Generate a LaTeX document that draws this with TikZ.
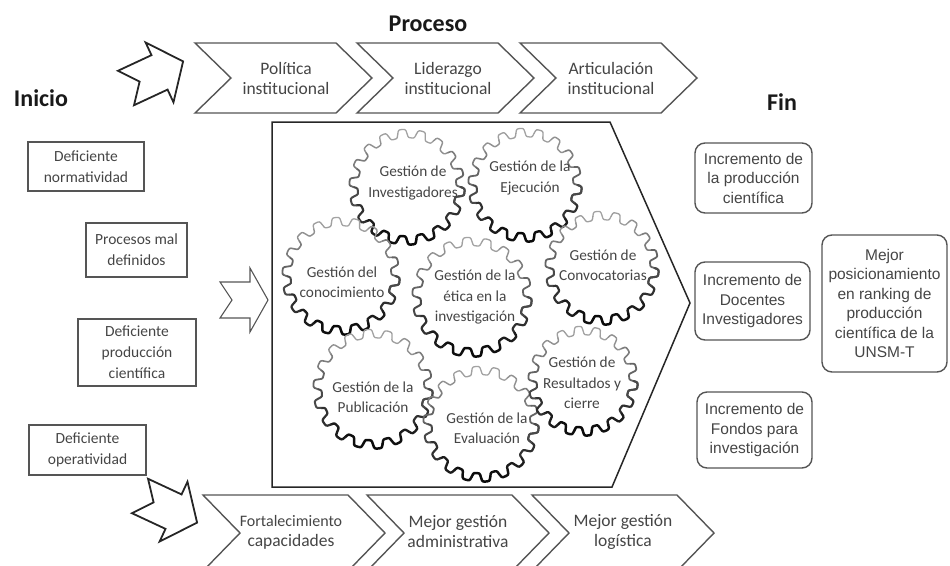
\documentclass[tikz,border=0pt]{standalone}
\usepackage{fontspec}
\usepackage{tikz}
\setmainfont{Carlito}
\newfontfamily\arialfont{Liberation Sans}

\definecolor{txtgray}{HTML}{454545}
\definecolor{linegray}{HTML}{555555}

\newcommand{\drawgear}[3]{%
  \foreach \k in {0,...,18}{%
    \pgfmathsetmacro{\gstart}{\k*20}
    \pgfmathsetmacro{\gend}{\k*20+20}
    \pgfmathsetmacro{\gdark}{66+30*sin(\k*20+10)}
    \pgfmathsetmacro{\gwid}{1.9+0.6*sin(\k*20+10)}
    \draw[black!\gdark, line width=\gwid pt, line cap=round, shift={(#1,#2)}]
      plot[domain=\gstart:\gend, samples=21, variable=\t]
      ({\t}:{#3+4.2*tanh(2.5*sin(18*\t))/tanh(2.5)});
  }%
}

\begin{document}
\begin{tikzpicture}[x=1pt,y=-1pt]
            \tikzstyle{chev}=[draw=linegray,line width=1.4pt,line join=miter]
            \tikzstyle{ctext}=[align=center,text=txtgray,inner sep=0pt,font=\fontsize{17.5}{20}\selectfont]
            \tikzstyle{cause}=[draw=linegray,line width=1.7pt,align=center,text=txtgray,inner sep=0pt,font=\fontsize{15.5}{21}\selectfont]
            \tikzstyle{effect}=[draw=linegray,line width=1.4pt,rounded corners=10pt,align=center,text=txtgray,inner sep=0pt,font=\arialfont\fontsize{15.5}{19.5}\selectfont]
            \tikzstyle{gtext}=[align=center,text=txtgray,inner sep=0pt,font=\fontsize{15.3}{20.5}\selectfont]
            \tikzstyle{title}=[text=black!90,inner sep=0pt,font=\bfseries\fontsize{24}{28}\selectfont]
            \tikzstyle{bigarrow}=[draw=black!85,line width=1.8pt,line join=miter]
                    \useasboundingbox (0,0) rectangle (950,565);

                    \node[title] (inicio) at (41,98){Inicio};
                    \node[title] (proceso) at (428,24){Proceso};
                    \node[title] (fin) at (782,102){Fin};

                \foreach \x in {195, 357, 520}
                    \draw[chev] (\x,43) -- (\x+141,43) -- (\x+177,78) -- (\x+141,113) -- (\x,113) -- (\x+36,78) -- cycle;
                \foreach \x in {203, 367, 532}
                    \draw[chev] (\x,495) -- (\x+145,495) -- (\x+182,533) -- (\x+145,571) -- (\x,571) -- (\x+37,533) -- cycle;

                    \node[ctext] (T-1) at (286,78){Política\\institucional};
                    \node[ctext] (T-2) at (448,78){Liderazgo\\institucional};
                    \node[ctext] (T-3) at (611,78){Articulación\\institucional};

                    \node[ctext] (B-1) at (291,532){{\fontsize{16}{20}\selectfont Fortalecimiento}\\capacidades};
                    \node[ctext] (B-2) at (458,532){Mejor gestión\\administrativa};
                    \node[ctext] (B-3) at (623,532){Mejor gestión\\logística};

                    \node[cause,minimum width=116pt,minimum height=49pt] (C-1) at (86,166.5){Deficiente\\normatividad};
                    \node[cause,minimum width=101pt,minimum height=54pt] (C-2) at (136.5,250){Procesos mal\\definidos};
                    \node[cause,minimum width=118pt,minimum height=67pt] (C-3) at (137,352.5){Deficiente\\producción\\científica};
                    \node[cause,minimum width=117pt,minimum height=50pt] (C-4) at (87.5,450){Deficiente\\operatividad};

                \begin{scope}[shift={(126,88)},rotate=25]
                    \draw[bigarrow] (0,-19) -- (37,-19) -- (37,-33) -- (63,0) -- (37,33) -- (37,19) -- (0,19) -- (15,0) -- cycle;
                \end{scope}
                \begin{scope}[shift={(140,496)},rotate=-25]
                    \draw[bigarrow] (0,-19) -- (37,-19) -- (37,-33) -- (63,0) -- (37,33) -- (37,19) -- (0,19) -- (15,0) -- cycle;
                \end{scope}
                    \draw[chev,line width=1.1pt] (220,282) -- (250,282) -- (250,268) -- (268,300) -- (250,332) -- (250,318) -- (220,318) -- (232,300) -- cycle;

                    \draw[black!85,line width=1.5pt] (272,122) -- (610,122) -- (690,303) -- (612,487) -- (272,487) -- cycle;

                \foreach \x/\y/\r in {407/187/53.5, 525/185/52.5, 341/276/54.5, 472/297/55.5, 602/268/52.5, 373/389/55.5, 481/424/53.5, 583/381/50.5}
                    \drawgear{\x}{\y}{\r};

                    \node[gtext] (G-1) at (413,183){Gestión de\\Investigadores};
                    \node[gtext] (G-2) at (530,178){Gestión de la\\Ejecución};
                    \node[gtext] (G-3) at (342,282){Gestión del\\conocimiento};
                    \node[gtext] (G-4) at (475,297){Gestión de la\\ética en la\\investigación};
                    \node[gtext] (G-5) at (603,265){Gestión de\\Convocatorias};
                    \node[gtext] (G-6) at (373,397){Gestión de la\\Publicación};
                    \node[gtext] (G-7) at (487,428){Gestión de la\\Evaluación};
                    \node[gtext] (G-8) at (582,383){Gestión de\\Resultados y\\cierre};

                    \node[effect,minimum width=117pt,minimum height=70pt] (E-1) at (753.5,178){Incremento de\\la producción\\científica};
                    \node[effect,minimum width=115pt,minimum height=78pt] (E-2) at (752.5,301){Incremento de\\Docentes\\Investigadores};
                    \node[effect,minimum width=115pt,minimum height=76pt] (E-3) at (754.5,430){Incremento de\\Fondos para\\investigación};
                    \node[effect,minimum width=125pt,minimum height=137pt] (E-4) at (884.5,303.5){Mejor\\posicionamiento\\en ranking de\\producción\\científica de la\\UNSM-T};
        \end{tikzpicture}
\end{document}
